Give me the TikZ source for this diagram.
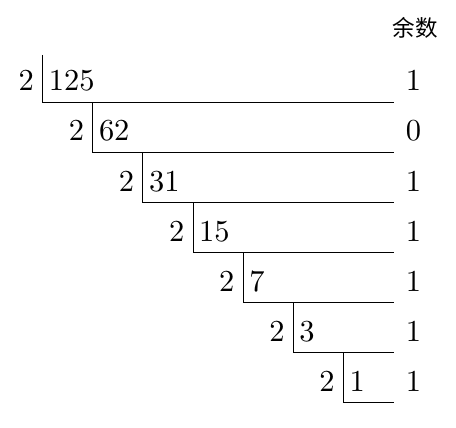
\documentclass[tikz,border=0pt]{standalone}
\usepackage{fontspec}
\setmainfont{lmroman10-regular}[Extension=.otf]
\newfontfamily\cjk{Noto Sans CJK SC}
\begin{document}
\begin{tikzpicture}[x=1pt,y=-1pt,
  num/.style={inner sep=0pt,font=\fontsize{30.5}{32}\selectfont},
  rule/.style={line width=1pt}]
\useasboundingbox (0,0) rectangle (456,428);
\def\dx{50.1}
\node[inner sep=0pt,font=\cjk\fontsize{22.5}{24}\selectfont] (head) at (415,28.3) {余数};
\coordinate (top) at (42.7,55);
\foreach \q/\r [count=\i from 0] in {125/1,62/0,31/1,15/1,7/1,3/1,1/1}{
  \coordinate (v\i) at ({42.7+\dx*\i},{102.7+50*\i});
  \coordinate (e\i) at (394,{102.7+50*\i});
  \node[num,anchor=base east] (d\i) at ({42.7+\dx*\i-8.5},{91+50*\i}) {2};
  \node[num,anchor=base west] (q\i) at ({42.7+\dx*\i+6},{91+50*\i}) {\q};
  \node[num,anchor=base] (r\i) at (413.5,{91+50*\i}) {\r};
}
\draw[rule] (top) -- (v0) -- (e0);
\foreach \i [evaluate=\i as \j using int(\i-1)] in {1,...,6}{
  \draw[rule] (v\i |- e\j) -- (v\i) -- (e\i);
}
\end{tikzpicture}
\end{document}
